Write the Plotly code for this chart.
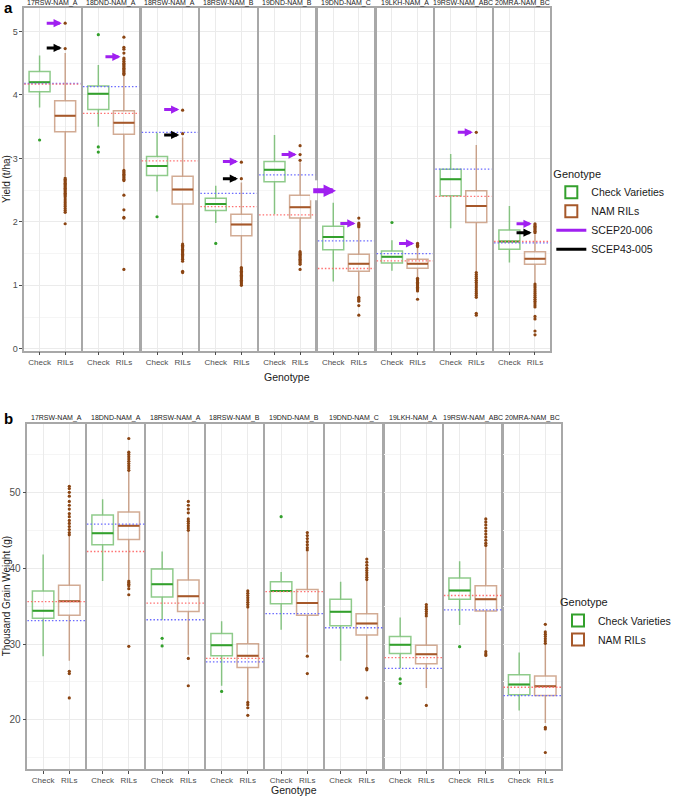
import plotly.graph_objects as go

W, H = 676, 800

facets = ["17RSW-NAM_A", "18DND-NAM_A", "18RSW-NAM_A", "18RSW-NAM_B", "19DND-NAM_B",
          "19DND-NAM_C", "19LKH-NAM_A", "19RSW-NAM_ABC", "20MRA-NAM_BC"]
groups = ["Check", "RILs"]

# ---------------- Panel a : Yield (t/ha) ----------------
yld_chk_lo = [3.80, 3.50, 2.48, 1.98, 2.12, 1.06, 1.23, 1.90, 1.36]
yld_chk_q1 = [4.05, 3.77, 2.73, 2.18, 2.63, 1.56, 1.35, 2.41, 1.57]
yld_chk_med = [4.20, 4.02, 2.88, 2.28, 2.82, 1.76, 1.45, 2.67, 1.69]
yld_chk_q3 = [4.37, 4.14, 3.03, 2.37, 2.95, 1.93, 1.54, 2.83, 1.87]
yld_chk_hi = [4.62, 4.47, 3.40, 2.57, 3.37, 2.30, 1.71, 3.07, 2.25]
yld_chk_out = [[3.29], [4.95, 3.18, 3.10], [2.08], [1.66], [], [], [1.99], [], []]

yld_ril_lo = [2.72, 2.83, 1.66, 1.29, 1.54, 0.82, 1.12, 1.21, 1.03]
yld_ril_q1 = [3.42, 3.38, 2.28, 1.78, 2.06, 1.22, 1.27, 1.99, 1.33]
yld_ril_med = [3.67, 3.56, 2.51, 1.96, 2.23, 1.34, 1.34, 2.25, 1.42]
yld_ril_q3 = [3.91, 3.75, 2.72, 2.12, 2.42, 1.49, 1.41, 2.49, 1.53]
yld_ril_hi = [4.66, 4.30, 3.33, 2.62, 2.94, 1.89, 1.59, 3.21, 1.80]
yld_ril_out = [
    [5.13, 4.73, 2.69, 2.67, 2.65, 2.63, 2.61, 2.59, 2.57, 2.55, 2.53, 2.51, 2.49, 2.47, 2.45,
     2.43, 2.41, 2.39, 2.36, 2.33, 2.30, 2.27, 2.24, 2.21, 2.18, 2.15, 1.97],
    [4.91, 4.75, 4.72, 4.66, 4.58, 4.56, 4.53, 4.50, 4.48, 4.46, 4.44, 4.42, 4.40, 4.38, 4.36,
     4.34, 4.32, 2.81, 2.79, 2.77, 2.75, 2.73, 2.71, 2.69, 2.67, 2.65, 2.42, 2.19, 2.07, 2.06, 1.25],
    [3.76, 3.39, 1.65, 1.63, 1.61, 1.59, 1.57, 1.55, 1.53, 1.51, 1.49, 1.47, 1.45, 1.43, 1.41,
     1.38, 1.22, 1.20],
    [2.94, 2.68, 1.28, 1.26, 1.24, 1.22, 1.20, 1.18, 1.16, 1.14, 1.12, 1.10, 1.08, 1.06, 1.04,
     1.02, 1.00],
    [3.20, 3.06, 2.97, 1.53, 1.51, 1.49, 1.47, 1.45, 1.43, 1.41, 1.39, 1.37, 1.35, 1.33, 1.25],
    [2.06, 1.98, 1.96, 1.94, 1.92, 0.81, 0.79, 0.77, 0.75, 0.68, 0.53],
    [1.66, 1.65, 1.64, 1.63, 1.62, 1.61, 1.11, 1.09, 1.07, 1.05, 1.03, 1.01, 0.99, 0.97, 0.95,
     0.93, 0.91, 0.78],
    [3.41, 1.20, 1.17, 1.14, 1.11, 1.08, 1.05, 1.02, 0.99, 0.96, 0.93, 0.90, 0.87, 0.84, 0.81,
     0.56, 0.53],
    [1.97, 1.95, 1.93, 1.91, 1.89, 1.87, 1.85, 1.83, 1.02, 0.99, 0.96, 0.93, 0.90, 0.87, 0.84,
     0.81, 0.78, 0.75, 0.72, 0.69, 0.66, 0.51, 0.47, 0.28, 0.22],
]
yld_line_blue = [4.18, 4.13, 3.41, 2.45, 2.74, 1.70, 1.50, 2.83, 1.67]
yld_line_red = [4.17, 3.71, 2.96, 2.24, 2.11, 1.265, 1.385, 2.40, 1.69]

# arrows (genotype values highlighted in panel a)
scep20_006 = [5.13, 4.60, 3.77, 2.95, 3.06, 1.975, 1.66, 3.41, 1.97]
scep43_005 = [4.74, None, 3.37, 2.68, None, None, None, None, 1.83]
scep20_006_big = 2.49  # large arrow near 19DND-NAM_C

# ---------------- Panel b : Thousand Grain Weight (g) ----------------
tgw_chk_lo = [28.4, 38.3, 33.2, 24.5, 31.9, 27.8, 26.8, 32.5, 21.25]
tgw_chk_q1 = [33.4, 43.1, 36.2, 28.45, 35.3, 32.4, 28.75, 35.9, 23.3]
tgw_chk_med = [34.4, 44.6, 37.9, 29.85, 37.0, 34.25, 29.9, 37.05, 24.65]
tgw_chk_q3 = [37.0, 47.0, 39.9, 31.4, 38.2, 35.9, 31.0, 38.7, 25.95]
tgw_chk_hi = [41.8, 49.1, 42.2, 33.0, 39.5, 38.2, 33.5, 40.9, 28.9]
tgw_chk_out = [[], [], [30.75, 29.75], [23.75], [46.8], [], [25.4, 24.8], [29.65], []]

tgw_ril_lo = [27.8, 38.5, 28.6, 22.5, 28.9, 26.9, 24.2, 29.1, 19.6]
tgw_ril_q1 = [33.8, 43.8, 34.3, 26.9, 33.8, 31.2, 27.4, 34.35, 23.2]
tgw_ril_med = [35.65, 45.6, 36.3, 28.45, 35.4, 32.7, 28.65, 35.9, 24.45]
tgw_ril_q3 = [37.75, 47.4, 38.45, 30.05, 37.2, 34.0, 29.85, 37.7, 25.8]
tgw_ril_hi = [44.2, 52.8, 44.8, 34.8, 42.2, 38.4, 33.5, 42.9, 30.0]
tgw_ril_out = [
    [50.8, 50.5, 50.0, 49.5, 48.8, 48.3, 47.8, 47.2, 46.8, 46.3, 45.9, 45.5, 45.1, 44.7, 44.4,
     26.4, 26.1, 22.9],
    [57.1, 55.3, 55.0, 54.7, 54.4, 54.1, 53.8, 53.5, 53.2, 52.9, 38.3, 38.1, 37.9, 37.7, 37.3,
     36.5, 29.7],
    [48.8, 48.3, 47.8, 47.3, 46.5, 46.2, 45.9, 45.6, 45.3, 45.0, 28.1, 24.5],
    [37.0, 36.7, 36.4, 36.1, 35.8, 35.5, 35.2, 34.9, 22.3, 22.0, 21.6, 20.6],
    [44.7, 44.3, 43.9, 43.5, 43.1, 42.7, 42.4, 28.4, 26.1],
    [41.2, 40.8, 40.4, 40.0, 39.7, 39.4, 39.1, 38.8, 38.5, 26.8, 26.6, 22.9],
    [35.2, 34.9, 34.6, 34.3, 34.0, 33.7, 21.9],
    [46.5, 46.1, 45.7, 45.3, 44.9, 44.5, 44.1, 43.7, 43.3, 43.0, 29.0, 28.7, 28.5],
    [32.6, 31.6, 31.3, 31.0, 30.7, 30.4, 30.1, 19.0, 18.8, 15.7],
]
tgw_line_blue = [33.1, 45.8, 33.2, 27.65, 34.0, 32.15, 26.8, 34.5, 23.2]
tgw_line_red = [35.6, 42.2, 35.4, 28.1, 36.9, None, 28.2, 36.4, 24.3]

# ---------------- styling ----------------
FONT = "Liberation Sans, Arial, sans-serif"
GREEN = "#33a02c"
GREEN_L = "rgba(51,160,44,0.55)"
BROWN = "#a6582a"
BROWN_L = "rgba(166,88,42,0.5)"
PURPLE = "#a020f0"
BLUE_DOT = "#6a6aff"
RED_DOT = "#ff7070"
BORDER = "#a8a8a8"
GRID = "#ebebeb"
BOXW = 0.82

fig = go.Figure()
layout = dict(width=W, height=H, margin=dict(l=0, r=0, t=0, b=0),
              paper_bgcolor="white", plot_bgcolor="white", font=dict(family=FONT),
              shapes=[], annotations=[])

panels = [
    dict(left=25, right=568, gap=2.5, top=8, bottom=352, yr=[-0.03, 5.37], dtick=1, minor=0.5,
         tickfont=9,
         data=(yld_chk_lo, yld_chk_q1, yld_chk_med, yld_chk_q3, yld_chk_hi, yld_chk_out,
               yld_ril_lo, yld_ril_q1, yld_ril_med, yld_ril_q3, yld_ril_hi, yld_ril_out,
               yld_line_blue, yld_line_red),
         legend="legend", strip_y=3, title="Yield (t/ha)", xtitle_y=378, tag="a", tag_y=8),
    dict(left=28.3, right=579, gap=2.0, top=425.7, bottom=771.7, yr=[13.55, 59.0], dtick=10,
         minor=5, tickfont=10,
         data=(tgw_chk_lo, tgw_chk_q1, tgw_chk_med, tgw_chk_q3, tgw_chk_hi, tgw_chk_out,
               tgw_ril_lo, tgw_ril_q1, tgw_ril_med, tgw_ril_q3, tgw_ril_hi, tgw_ril_out,
               tgw_line_blue, tgw_line_red),
         legend="legend2", strip_y=420, title="Thousand Grain Weight (g)", xtitle_y=793,
         tag="b", tag_y=420),
]

for p, P in enumerate(panels):
    (c_lo, c_q1, c_med, c_q3, c_hi, c_out, r_lo, r_q1, r_med, r_q3, r_hi, r_out,
     l_blue, l_red) = P["data"]
    n_f = len(facets)
    fw = (P["right"] - P["left"] - (n_f - 1) * P["gap"]) / n_f
    ydom = [1 - P["bottom"] / H, 1 - P["top"] / H]
    for i, name in enumerate(facets):
        n = p * n_f + i + 1
        xs = "" if n == 1 else str(n)
        xa, ya = "x" + xs, "y" + xs
        x0 = P["left"] + i * (fw + P["gap"])
        layout["xaxis" + xs] = dict(
            domain=[x0 / W, (x0 + fw) / W], anchor=ya, range=[-0.6, 1.6],
            tickvals=[0, 1], ticktext=groups, showgrid=True, gridcolor=GRID, gridwidth=1,
            zeroline=False, showline=True, mirror=True, linecolor=BORDER, linewidth=1.5,
            ticks="outside", ticklen=3, tickcolor="#4d4d4d",
            tickfont=dict(size=8, color="#4d4d4d", family=FONT), fixedrange=True)
        layout["yaxis" + xs] = dict(
            domain=ydom, anchor=xa, range=P["yr"], dtick=P["dtick"], tick0=0,
            showgrid=True, gridcolor=GRID, gridwidth=1,
            minor=dict(dtick=P["minor"], tick0=0, showgrid=True, gridcolor="#f5f5f5", gridwidth=0.8),
            zeroline=False, showline=True, mirror=True, linecolor=BORDER, linewidth=1.5,
            showticklabels=(i == 0), ticks="outside" if i == 0 else "", ticklen=3,
            tickcolor="#4d4d4d", tickfont=dict(size=P["tickfont"], color="#4d4d4d", family=FONT),
            fixedrange=True)

        for gi, (lo, q1, med, q3, hi, out, lc, mc) in enumerate([
                (c_lo, c_q1, c_med, c_q3, c_hi, c_out, GREEN_L, GREEN),
                (r_lo, r_q1, r_med, r_q3, r_hi, r_out, BROWN_L, BROWN)]):
            fig.add_trace(go.Box(
                x=[gi], q1=[q1[i]], median=[med[i]], q3=[q3[i]],
                lowerfence=[lo[i]], upperfence=[hi[i]], width=BOXW, whiskerwidth=0,
                line=dict(color=lc, width=1.5), fillcolor="rgba(255,255,255,0)",
                boxpoints=False, showlegend=False, hoverinfo="skip", xaxis=xa, yaxis=ya))
            # darker median bar
            fig.add_trace(go.Scatter(
                x=[gi - BOXW / 2, gi + BOXW / 2], y=[med[i], med[i]], mode="lines",
                line=dict(color=mc, width=2), showlegend=False, hoverinfo="skip",
                xaxis=xa, yaxis=ya))
            if out[i]:
                fig.add_trace(go.Scatter(
                    x=[gi] * len(out[i]), y=out[i], mode="markers",
                    marker=dict(color=mc if gi == 0 else "#8b4513", size=3.2),
                    showlegend=False, hoverinfo="skip", xaxis=xa, yaxis=ya))

        for val, col in [(l_blue[i], BLUE_DOT), (l_red[i], RED_DOT)]:
            if val is None:
                continue
            layout["shapes"].append(dict(
                type="line", xref=xa + " domain", yref=ya, x0=0, x1=1, y0=val, y1=val,
                line=dict(color=col, width=1.3, dash="1.5px,2px"), layer="above"))

        layout["annotations"].append(dict(
            text=name, xref="paper", yref="paper", x=(x0 + fw / 2) / W, y=1 - P["strip_y"] / H,
            showarrow=False, font=dict(size=7, color="#1a1a1a", family=FONT),
            xanchor="center", yanchor="middle"))

        if p == 0:
            for vals, col in [(scep20_006, PURPLE), (scep43_005, "black")]:
                if vals[i] is None:
                    continue
                layout["annotations"].append(dict(
                    text="", xref=xa, yref=ya, axref=xa, ayref=ya, x=0.87, y=vals[i],
                    ax=0.22, ay=vals[i], showarrow=True, arrowhead=2, arrowsize=0.55,
                    arrowwidth=3, arrowcolor=col))
            if i == 5:
                layout["annotations"].append(dict(
                    text="", xref=xa, yref=ya, axref=xa, ayref=ya, x=0.11, y=scep20_006_big,
                    ax=-0.84, ay=scep20_006_big, showarrow=True, arrowhead=2, arrowsize=0.5,
                    arrowwidth=5, arrowcolor=PURPLE))

    # legend proxies (drawn outside visible range)
    first = "" if p == 0 else str(p * n_f + 1)
    for label, col in [("Check Varieties", GREEN), ("NAM RILs", BROWN)]:
        fig.add_trace(go.Box(
            x=[10], q1=[P["yr"][0]], median=[P["yr"][0]], q3=[P["yr"][0]],
            lowerfence=[P["yr"][0]], upperfence=[P["yr"][0]], name=label,
            line=dict(color=col, width=2), fillcolor="white", boxpoints=False,
            showlegend=True, legend=P["legend"], hoverinfo="skip",
            xaxis="x" + first, yaxis="y" + first))
    if p == 0:
        for label, col in [("SCEP20-006", PURPLE), ("SCEP43-005", "black")]:
            fig.add_trace(go.Scatter(
                x=[10, 11], y=[0, 0], mode="lines", name=label,
                line=dict(color=col, width=3), showlegend=True, legend="legend",
                hoverinfo="skip", xaxis="x", yaxis="y"))

    ymid = (P["top"] + P["bottom"]) / 2
    layout["annotations"].append(dict(
        text=P["title"], xref="paper", yref="paper", x=7 / W, y=1 - ymid / H,
        textangle=-90, showarrow=False, font=dict(size=10, color="#1a1a1a", family=FONT),
        xanchor="center", yanchor="middle"))
    layout["annotations"].append(dict(
        text="Genotype", xref="paper", yref="paper",
        x=((P["left"] + P["right"]) / 2) / W, y=1 - P["xtitle_y"] / H, showarrow=False,
        font=dict(size=10.5, color="#1a1a1a", family=FONT), xanchor="center", yanchor="middle"))
    layout["annotations"].append(dict(
        text="<b>%s</b>" % P["tag"], xref="paper", yref="paper", x=2 / W,
        y=1 - P["tag_y"] / H, showarrow=False, font=dict(size=15, color="black", family=FONT),
        xanchor="left", yanchor="middle"))

# white patch behind the large arrow (as in original figure)
layout["shapes"].append(dict(type="rect", xref="paper", yref="paper",
                             x0=320 / W, x1=327.5 / W, y0=1 - 201 / H, y1=1 - 181 / H,
                             fillcolor="white", line=dict(width=0), layer="above"))

leg_common = dict(bgcolor="rgba(0,0,0,0)", font=dict(size=10.5, color="#1a1a1a", family=FONT),
                  title=dict(text="Genotype", font=dict(size=11, color="#1a1a1a", family=FONT)),
                  xanchor="left", yanchor="top", tracegroupgap=0, itemwidth=30)
layout["legend"] = dict(x=569 / W, y=1 - 164 / H, **leg_common)
layout["legend2"] = dict(x=576 / W, y=1 - 594 / H, **leg_common)
layout["showlegend"] = True

fig.update_layout(**layout)
fig.write_html("out.html", config={"displayModeBar": False},
               post_script="document.body.style.margin='0';document.body.style.padding='0';")
